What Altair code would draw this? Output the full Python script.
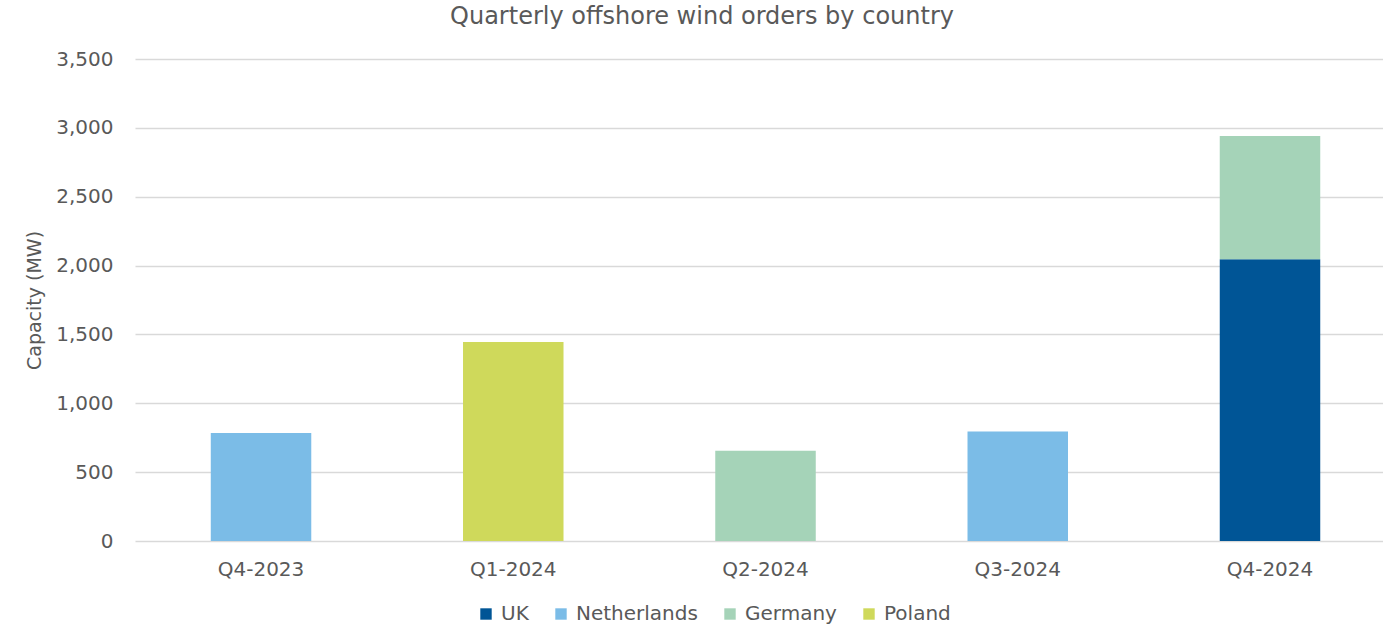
import altair as alt
import pandas as pd

quarters = ["Q4-2023", "Q1-2024", "Q2-2024", "Q3-2024", "Q4-2024"]
countries = ["UK", "Netherlands", "Germany", "Poland"]
colors = ["#005596", "#7BBCE7", "#A5D3B8", "#CFD95B"]

row_quarter = ["Q4-2023", "Q1-2024", "Q2-2024", "Q3-2024", "Q4-2024", "Q4-2024"]
row_country = ["Netherlands", "Poland", "Germany", "Netherlands", "UK", "Germany"]
row_value = [785, 1445, 655, 795, 2045, 895]

df = pd.DataFrame({"quarter": row_quarter, "country": row_country, "value": row_value})
df["order"] = df["country"].map({c: i for i, c in enumerate(countries)})

FONT = "DejaVu Sans"
GREY = "#595959"

chart = alt.Chart(df).mark_bar().encode(
    x=alt.X("quarter:N", sort=quarters, title=None,
            scale=alt.Scale(paddingInner=0.6016, paddingOuter=0.2746, align=0.547),
            axis=alt.Axis(labelAngle=0, labelFontSize=20, labelColor=GREY, labelFont=FONT,
                          labelPadding=18, ticks=False, domain=False, grid=False)),
    y=alt.Y("value:Q", stack="zero", title="Capacity (MW)",
            scale=alt.Scale(domain=[0, 3500]),
            axis=alt.Axis(values=[0, 500, 1000, 1500, 2000, 2500, 3000, 3500], format=",d",
                          labelFontSize=20, labelColor=GREY, labelFont=FONT, labelPadding=22,
                          ticks=False, domain=False, gridColor="#d9d9d9", gridWidth=1.3,
                          titleFontSize=19, titleFont=FONT, titleColor=GREY, titleFontWeight="normal",
                          titlePadding=11)),
    color=alt.Color("country:N", sort=countries,
                    scale=alt.Scale(domain=countries, range=colors),
                    legend=alt.Legend(title=None, orient="none", direction="horizontal",
                                      legendX=341, legendY=545, symbolType="square",
                                      symbolSize=130, symbolStrokeWidth=0,
                                      labelFontSize=20, labelFont=FONT, labelColor=GREY,
                                      columnPadding=22, labelOffset=5)),
    order=alt.Order("order:Q"),
).properties(
    width=1248,
    height=482,
    title=alt.TitleParams("Quarterly offshore wind orders by country", fontSize=24, font=FONT,
                          color=GREY, fontWeight="normal", anchor="middle", dx=-57, offset=20),
    autosize=alt.AutoSizeParams(type="none"),
    padding={"left": 135, "top": 59, "right": 0, "bottom": 84},
).configure_view(stroke=None)

chart.save("out.html", embed_options={"renderer": "svg", "actions": False})
